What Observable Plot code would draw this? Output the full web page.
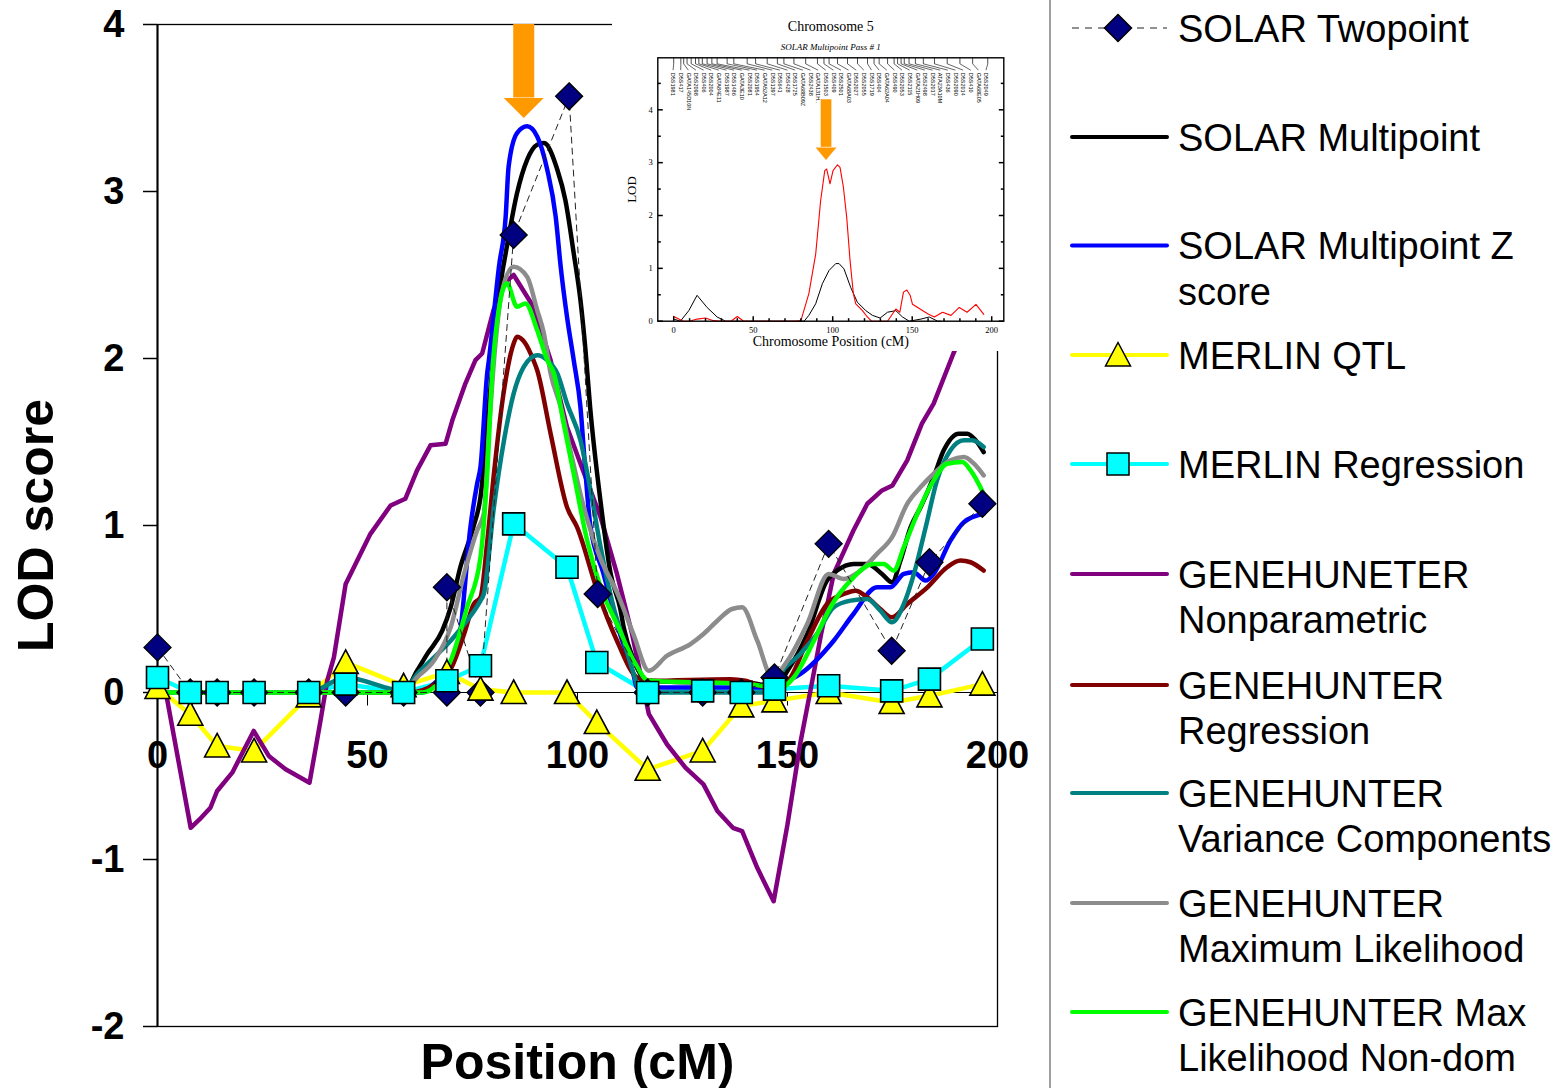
<!DOCTYPE html>
<html><head><meta charset="utf-8">
<script src="https://cdn.jsdelivr.net/npm/d3@7"></script>
<script src="https://cdn.jsdelivr.net/npm/@observablehq/plot@0.6"></script>
<style>
html,body{margin:0;padding:0;background:#fff;}
#wrap{position:relative;width:1566px;height:1088px;overflow:hidden;background:#fff;}
#main{position:absolute;left:0;top:0;}
#inset{position:absolute;left:612px;top:0;}
#legend{position:absolute;left:1040px;top:0;}
</style></head>
<body><div id="wrap"><div id="main"></div><div id="inset"></div><div id="legend"></div></div>
<script>
// ---------------- DATA (main chart) ----------------
const xTicks = [0, 50, 100, 150, 200];
const yTicks = [-2, -1, 0, 1, 2, 3, 4];

const seriesNames = [
  ["SOLAR Twopoint"], ["SOLAR Multipoint"], ["SOLAR Multipoint Z", "score"], ["MERLIN QTL"],
  ["MERLIN Regression"], ["GENEHUNETER", "Nonparametric"], ["GENEHUNTER", "Regression"],
  ["GENEHUNTER", "Variance Components"], ["GENEHUNTER", "Maximum Likelihood"],
  ["GENEHUNTER Max", "Likelihood Non-dom"]
];

const solarTwopoint = [[0,0.27],[7.8,0],[14.2,0],[23,0],[36,0],[44.8,0],[58.6,0],[68.9,0],[68.9,0.63],[76.9,0],[84.8,2.74],[98,3.57],[104.8,0.59],[116.7,0],[129.8,0],[139,0],[146.9,0.09],[159.8,0.89],[174.8,0.25],[183.8,0.78],[196.4,1.13]];

const merlinX = [0, 7.8, 14.2, 23.0, 36.0, 44.8, 58.6, 68.9, 76.9, 84.8, 97.5, 104.6, 116.7, 129.8, 139.0, 146.9, 159.8, 174.8, 183.8, 196.4];
const merlinQTL = [0.03, -0.13, -0.32, -0.35, -0.02, 0.18, 0.04, 0.12, 0.02, 0, 0, -0.18, -0.46, -0.35, -0.08, -0.05, 0, -0.06, -0.02, 0.05];
const merlinRegression = [0.09, 0, 0, 0, 0, 0.05, 0, 0.07, 0.16, 1.01, 0.75, 0.18, 0, 0.01, 0, 0.02, 0.04, 0.01, 0.08, 0.32];

const solarMultipoint = [[0,0],[58.6,0],[61.8,0.13],[64.2,0.23],[67.8,0.37],[69.8,0.51],[72.1,0.75],[75.2,0.99],[76.9,1.17],[79,1.75],[80.5,2.15],[82,2.5],[82.9,2.63],[85.6,2.99],[88,3.19],[90.4,3.28],[92,3.29],[95.2,3.13],[97.1,2.95],[99.1,2.63],[100.7,2.35],[101.9,2.05],[103,1.71],[105.5,1.14],[107.9,0.71],[110.2,0.5],[111,0.39],[113.3,0.2],[116.6,0.07],[130,0.06],[140,0.06],[145,0.04],[147,0.03],[150,0.13],[154.7,0.35],[159.4,0.67],[161.8,0.73],[165.8,0.77],[169,0.77],[172.5,0.71],[174.9,0.66],[176.9,0.79],[179.3,0.99],[181.7,1.11],[184.8,1.29],[187.2,1.45],[190.8,1.55],[192.8,1.55],[194.8,1.51],[196.7,1.44]];

const solarMultipointZ = [[0,0],[63,0],[65.7,0.05],[70.5,0.21],[72,0.35],[74.5,0.99],[76.1,1.25],[76.9,1.35],[78.5,1.91],[78.9,1.99],[81.3,2.55],[82.9,2.85],[83.6,3.15],[85.6,3.35],[88,3.39],[90.4,3.33],[92.8,3.13],[94.8,2.85],[96,2.55],[97.5,2.25],[99.1,1.99],[100.7,1.71],[101.8,1.35],[103,1.01],[106.2,0.71],[109.4,0.41],[113.3,0.11],[114.2,0.03],[146,0.03],[148,0.05],[153,0.11],[161,0.31],[165.7,0.47],[171.3,0.63],[174.5,0.63],[177.7,0.71],[180,0.72],[182.9,0.67],[184.8,0.71],[188.8,0.91],[192,1.02],[196.7,1.07]];

const ghNonparametric = [[0,0.02],[2,0],[7.9,-0.81],[10,-0.76],[12.6,-0.69],[14.2,-0.59],[17.8,-0.48],[22.9,-0.23],[26.5,-0.38],[30.5,-0.46],[36.2,-0.54],[38.8,-0.17],[40.4,0.07],[42,0.21],[44.8,0.65],[50.7,0.95],[55.5,1.12],[59,1.16],[61.8,1.33],[65,1.48],[68.6,1.49],[70.2,1.63],[73.3,1.85],[75.7,1.99],[77.3,2.03],[80,2.29],[82.5,2.45],[84.8,2.5],[89.5,2.31],[93.6,1.99],[97.5,1.59],[101,1.35],[105.5,1.05],[109.4,0.71],[113,0.35],[117,-0.13],[121.3,-0.31],[125.7,-0.45],[130,-0.55],[133.3,-0.71],[137,-0.81],[139.2,-0.83],[142.8,-1.05],[146.7,-1.25],[150,-0.79],[153,-0.31],[155.9,0.07],[158,0.35],[161,0.71],[165.7,0.97],[169,1.13],[172.5,1.21],[175,1.24],[178.5,1.39],[182,1.61],[184.8,1.73],[189.5,2.03],[196.7,2.45]];

const ghRegression = [[0,0],[60,0],[66,0.05],[70,0.15],[73,0.35],[75.3,0.53],[76.9,0.57],[78.5,0.9],[80.1,1.31],[82.5,1.81],[84.8,2.09],[85.6,2.13],[87.6,2.09],[89.5,1.99],[90.4,1.93],[93.6,1.55],[97.5,1.11],[99.9,0.99],[104.7,0.61],[109.4,0.31],[114.2,0.09],[117,0.07],[136.4,0.08],[140,0.07],[145,0.03],[150,0.07],[154.7,0.31],[159.4,0.53],[163.4,0.59],[166.2,0.61],[169,0.57],[172.1,0.5],[174.9,0.45],[178.5,0.53],[183.3,0.63],[188,0.75],[191.2,0.79],[193.6,0.78],[196.7,0.73]];

const ghVariance = [[0,0],[36,0],[44.8,0.09],[58.6,0.01],[61.8,0.11],[65,0.19],[69.8,0.31],[73.7,0.43],[76.9,0.55],[77.7,0.59],[80.1,1.11],[82.5,1.51],[84.8,1.79],[87.2,1.95],[90.4,2.02],[92.8,1.99],[95.2,1.91],[97.5,1.73],[100.7,1.51],[103.1,1.21],[105.5,0.87],[108.6,0.51],[111,0.31],[113.4,0.11],[115,0],[147,0],[147.5,0.07],[153,0.23],[157,0.35],[161,0.51],[165,0.55],[169,0.56],[172.1,0.49],[174.9,0.42],[177.7,0.53],[180.1,0.71],[182.9,0.99],[185.6,1.27],[188.8,1.45],[192,1.51],[194,1.51],[196.7,1.47]];

const ghMaxLikelihood = [[0,0],[58.6,0],[61.8,0.09],[65.8,0.19],[69.8,0.39],[73,0.71],[76.1,0.97],[77.7,1.07],[79,1.6],[80.5,2.1],[82,2.4],[84.8,2.55],[88,2.49],[90.4,2.29],[92,2.15],[93.6,1.91],[96,1.71],[98.3,1.45],[101.5,1.11],[105.5,0.8],[109.4,0.6],[113.3,0.35],[117,0.13],[121.3,0.22],[126.9,0.29],[130,0.35],[133.3,0.43],[136.8,0.5],[139.2,0.51],[142.8,0.31],[146.4,0.09],[150,0.19],[154.7,0.41],[159.8,0.71],[163.4,0.68],[167.4,0.73],[171.3,0.83],[174.9,0.93],[178.5,1.13],[181.7,1.23],[184.8,1.31],[188.8,1.39],[192,1.41],[194.4,1.37],[196.7,1.3]];

const ghMaxLikNonDom = [[0,0],[63,0],[65.8,0.03],[69.8,0.19],[73.7,0.51],[76.9,0.81],[78.5,1.31],[79.7,1.91],[80.9,2.23],[83.2,2.45],[85.6,2.31],[87.6,2.33],[90.4,2.17],[92.8,1.99],[94.4,1.91],[96.7,1.61],[99.1,1.31],[102.3,0.91],[105.5,0.63],[109.4,0.41],[113.4,0.19],[117,0.07],[130,0.06],[140,0.05],[144,0.04],[146.7,0.01],[151.5,0.09],[156.3,0.31],[160.2,0.51],[165,0.67],[170.6,0.77],[172.9,0.77],[175.3,0.73],[177.7,0.87],[180.9,1.07],[184.8,1.27],[188,1.37],[191.6,1.38],[193.6,1.33],[196.7,1.19]];

const mainArrow = [{x: 87.2, top: 4, base: 3.56, tip: 3.44}];

// ---------------- DATA (inset chart) ----------------
const insetRed = [[0,0.09],[3.2,0.04],[6,0],[10,0],[14.7,0.04],[20,0.06],[25,0.01],[30,0],[36,0],[40,0.09],[44,0],[76.7,0],[80,0.01],[85,0.52],[89.3,1.27],[92.4,2.28],[95,2.85],[96.2,2.88],[98.3,2.6],[100.2,2.85],[103,2.96],[104.6,2.91],[106.7,2.54],[108.8,1.97],[110.9,1.15],[113,0.52],[114.5,0.33],[118.7,0.2],[121.8,0.08],[124.4,0],[134.5,0],[139.7,0.23],[142.2,0.17],[144.5,0.55],[146.6,0.59],[148.7,0.49],[150.2,0.32],[159.7,0.14],[163.9,0.08],[169.1,0.17],[174.4,0.11],[179.6,0.26],[184.5,0.17],[190.1,0.32],[195,0.13]];
const insetBlack = [[0,0.04],[4.2,0],[9.5,0.2],[14.7,0.49],[21,0.26],[27.3,0.08],[32.6,0],[82,0],[85,0.11],[89.3,0.33],[93.5,0.71],[97.7,0.96],[101.9,1.09],[104,1.09],[107.1,0.99],[111.3,0.64],[115.5,0.36],[120.8,0.2],[125,0.11],[129.8,0.06],[134.5,0.17],[139.7,0.2],[143.9,0.08],[148.1,0],[155.5,0.04],[160.7,0.08],[166,0],[168,0]];
const insetXTicks = [0, 50, 100, 150, 200];
const insetXMinor = [10, 20, 30, 40, 60, 70, 80, 90, 110, 120, 130, 140, 160, 170, 180, 190];
const insetYTicks = [0, 1, 2, 3, 4];
const insetYMinor = [0.5, 1.5, 2.5, 3.5, 4.5];
const insetMarkers = ["D5S1981","D5S417","GATA145D10N","D5S2098","D5S406","D5S2004","GATA84E11","D5S1987","D5S1486","GATA3E10","D5S2081","D5S1954","GATA52A12","D5S1397","D5S641","D5S428","D5S1725","GATA68B09Z","D5S2438","GATA131H..","D5S1503","D5S409","D5S2501","GATA68A03","D5S2027","D5S2055","D5S1719","D5S404","GATA62A04","D5S490","D5S2053","D5S2115","GATA21H09","D5S2498","D5S2017","ATA23A10M","D5S436","D5S2090","D5S2014","D5S410","GATA68E05","D5S2049"];
const insetMarkerPos = [0, 4.5, 6.3, 8.4, 11, 13.7, 15.8, 18, 21, 24, 27.3, 33.6, 37.8, 46.2, 51.5, 58.8, 65.2, 69.3, 75.6, 83, 90.4, 94.5, 97.7, 103, 109.3, 115.6, 121.9, 126, 129.2, 134.5, 138.6, 140.8, 143, 145, 148, 152, 157, 164, 172, 180, 188, 197.5];
const insetArrow = [{x: 95.8, top: 4.19, base: 3.29, tip: 3.05}];

// ---------------- STYLE ----------------
const SANS = "'Liberation Sans', Arial, Helvetica, sans-serif";
const SERIF = "'Liberation Serif', 'Times New Roman', serif";
const ORANGE = "#ff9900";
const C = {
  twopoint: "#000080", multipoint: "#000000", multiZ: "#0000ff", qtl: "#ffff00", mreg: "#00ffff",
  nonpar: "#800080", ghreg: "#800000", ghvc: "#008080", ghml: "#8c8c8c", ghnd: "#00ff00"
};

const diamondSym = {draw(c){ c.moveTo(0,-13.5); c.lineTo(13.5,0); c.lineTo(0,13.5); c.lineTo(-13.5,0); c.closePath(); }};
const squareSym = {draw(c){ c.rect(-11,-11,22,22); }};
const triangleSym = {draw(c){ c.moveTo(0,-12.5); c.lineTo(12.5,11); c.lineTo(-12.5,11); c.closePath(); }};
const tickDown = {draw(c){ c.moveTo(0,0); c.lineTo(0,13); }};
const headMain = {draw(c){ c.moveTo(-20,-20); c.lineTo(20,-20); c.lineTo(0,0); c.closePath(); }};
const headInset = {draw(c){ c.moveTo(-10.4,-12.6); c.lineTo(10.4,-12.6); c.lineTo(0,0); c.closePath(); }};
const tickR = L => ({draw(c){ c.moveTo(0,0); c.lineTo(L,0); }});
const tickL = L => ({draw(c){ c.moveTo(0,0); c.lineTo(-L,0); }});
const tickU = L => ({draw(c){ c.moveTo(0,0); c.lineTo(0,-L); }});
const tickD = L => ({draw(c){ c.moveTo(0,0); c.lineTo(0,L); }});

const xy = {x: d => d[0], y: d => d[1]};
const qtlData = merlinX.map((x, i) => [x, merlinQTL[i]]);
const mregData = merlinX.map((x, i) => [x, merlinRegression[i]]);
const LW = 4.5;
const smooth = (data, color) => Plot.line(data, {...xy, stroke: color, strokeWidth: LW, curve: "monotone-x", strokeLinejoin: "round", strokeLinecap: "round"});
const label = (t, o) => Plot.text([t], {text: d => d, textAnchor: "middle", lineAnchor: "middle", ...o});

// ---------------- MAIN PLOT ----------------
const mainPlot = Plot.plot({
  width: 1040, height: 1088,
  marginLeft: 157, marginRight: 43, marginTop: 24, marginBottom: 62,
  x: {domain: [0, 200], axis: null},
  y: {domain: [-2, 4], axis: null},
  style: {fontFamily: SANS, background: "transparent", overflow: "visible", color: "black"},
  marks: [
    Plot.frame({stroke: "black", strokeWidth: 1.3}),
    Plot.ruleX([0], {stroke: "black", strokeWidth: 2}),
    Plot.ruleY([0], {stroke: "black", strokeWidth: 1}),
    Plot.axisY({ticks: yTicks, tickSize: 14, tickPadding: 19, fontSize: 38, fontWeight: "bold", tickFormat: d => String(d), label: null, strokeWidth: 1.5}),
    Plot.dot(xTicks, {x: d => d, y: () => 0, symbol: tickDown, stroke: "black", strokeWidth: 1}),
    Plot.text(xTicks, {x: d => d, y: () => 0, dy: 63, text: d => String(d), fontSize: 38, fontWeight: "bold", lineAnchor: "middle"}),
    Plot.line(qtlData, {...xy, stroke: C.qtl, strokeWidth: LW, strokeLinejoin: "round"}),
    Plot.line(mregData, {...xy, stroke: C.mreg, strokeWidth: LW, strokeLinejoin: "round"}),
    Plot.line(ghNonparametric, {...xy, stroke: C.nonpar, strokeWidth: LW, strokeLinejoin: "round"}),
    smooth(solarMultipoint, C.multipoint),
    smooth(solarMultipointZ, C.multiZ),
    smooth(ghRegression, C.ghreg),
    smooth(ghVariance, C.ghvc),
    smooth(ghMaxLikelihood, C.ghml),
    smooth(ghMaxLikNonDom, C.ghnd),
    Plot.line(solarTwopoint, {...xy, stroke: "#222", strokeWidth: 1, strokeDasharray: "6,5"}),
    Plot.dot(solarTwopoint, {...xy, symbol: diamondSym, fill: C.twopoint, stroke: "black", strokeWidth: 1.3}),
    Plot.dot(qtlData, {...xy, symbol: triangleSym, fill: C.qtl, stroke: "black", strokeWidth: 1.6}),
    Plot.dot(mregData, {...xy, symbol: squareSym, fill: C.mreg, stroke: "black", strokeWidth: 1.6}),
    Plot.ruleX(mainArrow, {x: "x", y1: "top", y2: "base", stroke: ORANGE, strokeWidth: 21}),
    Plot.dot(mainArrow, {x: "x", y: "tip", symbol: headMain, fill: ORANGE, stroke: "none"}),
    label("Position (cM)", {frameAnchor: "bottom", dy: 36, fontSize: 50, fontWeight: "bold"}),
    label("LOD score", {frameAnchor: "left", dx: -121, rotate: -90, fontSize: 50, fontWeight: "bold"})
  ]
});
document.getElementById("main").appendChild(mainPlot);

// ---------------- INSET PLOT ----------------
const labelX = insetMarkers.map((_, i) => -0.4 + i * (196.8 / (insetMarkers.length - 1)));
const insetPlot = Plot.plot({
  width: 398, height: 351,
  marginLeft: 45.3, marginRight: 6.7, marginTop: 57.3, marginBottom: 30.3,
  x: {domain: [-10, 207.6], axis: null},
  y: {domain: [0, 4.984], axis: null},
  style: {fontFamily: SERIF, background: "white", color: "black"},
  marks: [
    Plot.line(insetBlack, {...xy, stroke: "black", strokeWidth: 1}),
    Plot.line(insetRed, {...xy, stroke: "#ff0000", strokeWidth: 1.1}),
    Plot.frame({stroke: "black", strokeWidth: 1.4}),
    Plot.dot(insetYTicks, {y: d => d, frameAnchor: "left", symbol: tickR(5), stroke: "black"}),
    Plot.dot(insetYMinor, {y: d => d, frameAnchor: "left", symbol: tickR(3), stroke: "black"}),
    Plot.dot(insetYTicks, {y: d => d, frameAnchor: "right", symbol: tickL(5), stroke: "black"}),
    Plot.dot(insetYMinor, {y: d => d, frameAnchor: "right", symbol: tickL(3), stroke: "black"}),
    Plot.dot(insetXTicks, {x: d => d, frameAnchor: "bottom", symbol: tickU(5), stroke: "black"}),
    Plot.dot(insetXMinor, {x: d => d, frameAnchor: "bottom", symbol: tickU(3), stroke: "black"}),
    Plot.dot(insetMarkerPos, {x: d => d, frameAnchor: "top", symbol: tickD(6), stroke: "black", strokeWidth: 0.7}),
    Plot.link(insetMarkers, {x1: (d, i) => insetMarkerPos[i], x2: (d, i) => labelX[i], y1: () => 4.87, y2: () => 4.75, stroke: "black", strokeWidth: 0.6}),
    Plot.text(insetMarkers, {x: (d, i) => labelX[i], frameAnchor: "top", dy: 15, rotate: 90, textAnchor: "start", lineAnchor: "middle", text: d => d, fontSize: 5.5, fontFamily: SANS}),
    Plot.text(insetYTicks, {y: d => d, frameAnchor: "left", dx: -5, textAnchor: "end", lineAnchor: "middle", text: d => String(d), fontSize: 8.5}),
    Plot.text(insetXTicks, {x: d => d, frameAnchor: "bottom", dy: 9, lineAnchor: "middle", text: d => String(d), fontSize: 8.5}),
    Plot.ruleX(insetArrow, {x: "x", y1: "top", y2: "base", stroke: ORANGE, strokeWidth: 10.7}),
    Plot.dot(insetArrow, {x: "x", y: "tip", symbol: headInset, fill: ORANGE, stroke: "none"}),
    label("Chromosome 5", {frameAnchor: "top", dy: -31.3, fontSize: 14}),
    label("SOLAR Multipoint Pass # 1", {frameAnchor: "top", dy: -11, fontSize: 9, fontStyle: "italic"}),
    label("LOD", {frameAnchor: "left", dx: -25.6, rotate: -90, fontSize: 13}),
    label("Chromosome Position (cM)", {frameAnchor: "bottom", dy: 20, fontSize: 14})
  ]
});
document.getElementById("inset").appendChild(insetPlot);

// ---------------- LEGEND ----------------
const legendRows = [28, 137, 245.5, 355, 464, 574, 685, 793, 903, 1012];
const legendStyle = [
  {color: "#222", width: 1, dash: "7,6", sym: diamondSym, fill: C.twopoint},
  {color: C.multipoint, width: 4},
  {color: C.multiZ, width: 4},
  {color: C.qtl, width: 4, sym: triangleSym, fill: C.qtl},
  {color: C.mreg, width: 4, sym: squareSym, fill: C.mreg},
  {color: C.nonpar, width: 4},
  {color: C.ghreg, width: 4},
  {color: C.ghvc, width: 4},
  {color: C.ghml, width: 4},
  {color: C.ghnd, width: 4}
];
const lsvg = d3.select("#legend").append("svg").attr("width", 526).attr("height", 1088)
  .style("font-family", SANS);
lsvg.append("line").attr("x1", 10).attr("x2", 10).attr("y1", 0).attr("y2", 1088)
  .attr("stroke", "#808080").attr("stroke-width", 1.5);
seriesNames.forEach((lines, i) => {
  const s = legendStyle[i];
  const g = lsvg.append("g").attr("transform", `translate(0,${legendRows[i]})`);
  g.append("line").attr("x1", 32).attr("x2", 127).attr("y1", 0).attr("y2", 0)
    .attr("stroke", s.color).attr("stroke-width", s.width)
    .attr("stroke-linecap", s.dash ? "butt" : "round")
    .attr("stroke-dasharray", s.dash || null);
  if (s.sym) {
    g.append("path").attr("transform", "translate(78,0)").attr("d", d3.symbol(s.sym)())
      .attr("fill", s.fill).attr("stroke", "black").attr("stroke-width", 1.5);
  }
  lines.forEach((t, j) => {
    g.append("text").attr("x", 138).attr("y", 13.7 + 45.5 * j).attr("font-size", 38)
      .attr("fill", "black").text(t);
  });
});
</script>
</body></html>
